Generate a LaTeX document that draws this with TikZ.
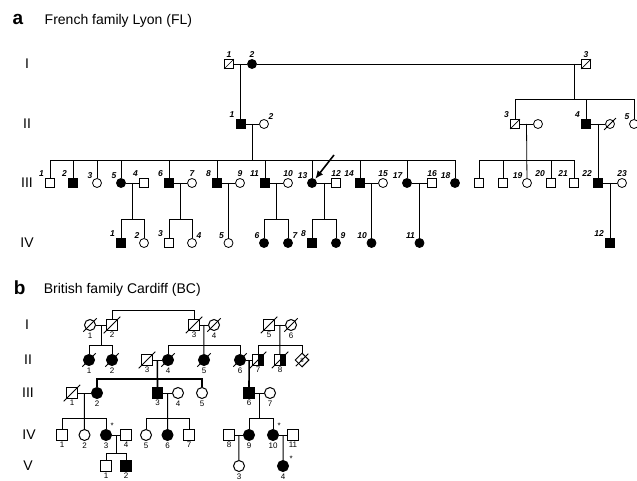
\documentclass[tikz,border=0pt]{standalone}
\usepackage{fontspec}
\setmainfont{Liberation Sans}
\usepackage{tikz}
\usetikzlibrary{arrows.meta, calc, positioning, shapes.geometric}

\begin{document}
\begin{tikzpicture}[x=1pt, y=-1pt, line width=0.8pt,
    male/.style={draw, rectangle, minimum size=9pt, inner sep=0pt, fill=white},
    female/.style={draw, circle, minimum size=9pt, inner sep=0pt, fill=white},
    bmale/.style={male, minimum size=10.5pt, line width=1pt},
    bfemale/.style={female, minimum size=11pt, line width=1pt},
    aff/.style={fill=black},
    half/.style={path picture={\fill[black] (path picture bounding box.north) rectangle (path picture bounding box.south east);}},
    dec/.style={append after command={(\tikzlastnode.south west) edge[line width=0.7pt] (\tikzlastnode.north east)}},
    decx/.style={append after command={($(\tikzlastnode.south west)+(-2.5,2.5)$) edge[line width=0.8pt] ($(\tikzlastnode.north east)+(2.5,-2.5)$)}},
    alab/.style={font=\fontsize{8.5}{9}\selectfont\bfseries\itshape, inner sep=0.8pt},
    blab/.style={font=\fontsize{8}{9}\selectfont, inner sep=1pt},
    gen/.style={font=\fontsize{14}{16}\selectfont},
    tag/.style={font=\fontsize{19}{20}\selectfont\bfseries, anchor=base west},
    title/.style={font=\fontsize{14}{16}\selectfont, anchor=base west}]
  \useasboundingbox (0,0) rectangle (637,481);

  % ---------------- a: French family Lyon
  \node[tag] (aTag) at (9,25) {a};
  \node[title] (aTitle) at (41,25) {French family Lyon (FL)};
  \node[gen] (aGI) at (27,64) {I};
  \node[gen] (aGII) at (27,124) {II};
  \node[gen] (aGIII) at (27,183) {III};
  \node[gen] (aGIV) at (27,243) {IV};

  % generation I
  \node[male, dec, label={[alab]above:1}] (aI1) at (229,64) {};
  \node[female, aff, label={[alab]above:2}] (aI2) at (252,64) {};
  \node[male, dec, label={[alab]above:3}] (aI3) at (586,64) {};
  \draw (aI1) -- coordinate (aM11) (aI2);
  \draw (aI2) -- (aI3);
  \coordinate (aM12) at (574,64);

  % generation II
  \node[male, aff, label={[alab]above left:1}] (aII1) at (240.5,124) {};
  \node[female, label={[alab]above right:2}] (aII2) at (264,124) {};
  \node[male, dec, label={[alab]above left:3}] (aII3) at (515,124) {};
  \node[female] (aII3w) at (538,124) {};
  \node[male, aff, label={[alab]above left:4}] (aII4) at (586,124) {};
  \node[female, decx] (aII4w) at (610,124) {};
  \node[female, label={[alab]above left:5}] (aII5) at (634,124) {};
  \draw (aM11) -- (aII1);
  \coordinate (aS2) at (0,99);
  \draw (aM12) -- (aM12 |- aS2);
  \draw (aII3.north) |- (aII5 |- aS2) -- (aII5.north);
  \draw (aII4.north) -- (aII4 |- aS2);
  \draw (aII1) -- coordinate (aM21) (aII2);
  \draw (aII3) -- coordinate (aM22) (aII3w);
  \draw (aII4) -- coordinate (aM23) (aII4w);

  % generation III
  \node[male, label={[alab]above left:1}] (aIII1) at (50,183) {};
  \node[male, aff, label={[alab]above left:2}] (aIII2) at (73,183) {};
  \node[female, label={[alab]above left:3}] (aIII3) at (97,183) {};
  \node[female, aff, label={[alab]above left:5}] (aIII5) at (121,183) {};
  \node[male, label={[alab]above left:4}] (aIII4) at (144,183) {};
  \node[male, aff, label={[alab]above left:6}] (aIII6) at (169,183) {};
  \node[female, label={[alab]above:7}] (aIII7) at (192,183) {};
  \node[male, aff, label={[alab]above left:8}] (aIII8) at (217,183) {};
  \node[female, label={[alab]above:9}] (aIII9) at (240,183) {};
  \node[male, aff, label={[alab]above left:11}] (aIII11) at (265,183) {};
  \node[female, label={[alab]above:10}] (aIII10) at (288,183) {};
  \node[female, aff, label={[alab]above left:13}] (aIII13) at (312,183) {};
  \node[male, label={[alab]above:12}] (aIII12) at (336,183) {};
  \node[male, aff, label={[alab]above left:14}] (aIII14) at (360,183) {};
  \node[female, label={[alab]above:15}] (aIII15) at (383,183) {};
  \node[female, aff, label={[alab]above left:17}] (aIII17) at (407,183) {};
  \node[male, label={[alab]above:16}] (aIII16) at (432,183) {};
  \node[female, aff, label={[alab]above left:18}] (aIII18) at (455,183) {};
  \node[male] (aIIIa) at (479,183) {};
  \node[male] (aIIIb) at (503,183) {};
  \node[female, label={[alab]above left:19}] (aIII19) at (527,183) {};
  \node[male, label={[alab]above left:20}] (aIII20) at (551,183) {};
  \node[male, label={[alab]above left:21}] (aIII21) at (574,183) {};
  \node[male, aff, label={[alab]above left:22}] (aIII22) at (598,183) {};
  \node[female, label={[alab]above:23}] (aIII23) at (622,183) {};

  \coordinate (aS3) at (0,160);
  \draw (aM21) -- (aM21 |- aS3);
  \draw (aIII1.north) |- (aIII18 |- aS3) -- (aIII18.north);
  \foreach \c in {aIII2,aIII3,aIII5,aIII6,aIII8,aIII11,aIII13,aIII14,aIII17}
    \draw (\c.north) -- (\c |- aS3);
  \draw (aIIIa.north) |- (aIII21 |- aS3) -- (aIII21.north);
  \foreach \c in {aIIIb,aIII20}
    \draw (\c.north) -- (\c |- aS3);
  \draw (aM22) -- (aIII19);
  \draw (aM23) -- (aIII22);

  \coordinate (aArr) at (334,155);
  \draw[-{Latex[length=8pt,width=7pt]}, line width=1.6pt, shorten >=0.5pt] (aArr) -- (aIII13);

  % generation IV
  \node[male, aff, label={[alab]above left:1}] (aIV1) at (121,243) {};
  \node[female, label={[alab]above left:2}] (aIV2) at (144,243) {};
  \node[male, label={[alab]above left:3}] (aIV3) at (169,243) {};
  \node[female, label={[alab]above right:4}] (aIV4) at (192,243) {};
  \node[female, label={[alab]above left:5}] (aIV5) at (228.5,243) {};
  \node[female, aff, label={[alab]above left:6}] (aIV6) at (264,243) {};
  \node[female, aff, label={[alab]above right:7}] (aIV7) at (288,243) {};
  \node[male, aff, label={[alab]above left:8}] (aIV8) at (312,243) {};
  \node[female, aff, label={[alab]above right:9}] (aIV9) at (336,243) {};
  \node[female, aff, label={[alab]above left:10}] (aIV10) at (371.5,243) {};
  \node[female, aff, label={[alab]above left:11}] (aIV11) at (419.5,243) {};
  \node[male, aff, label={[alab]above left:12}] (aIV12) at (610,243) {};

  \coordinate (aS4) at (0,219);
  \draw (aIII5) -- coordinate (aM31) (aIII4);
  \draw (aIII6) -- coordinate (aM32) (aIII7);
  \draw (aIII8) -- coordinate (aM33) (aIII9);
  \draw (aIII11) -- coordinate (aM34) (aIII10);
  \draw (aIII13) -- coordinate (aM35) (aIII12);
  \draw (aIII14) -- coordinate (aM36) (aIII15);
  \draw (aIII17) -- coordinate (aM37) (aIII16);
  \draw (aIII22) -- coordinate (aM38) (aIII23);
  \foreach \m/\l/\r in {aM31/aIV1/aIV2, aM32/aIV3/aIV4, aM34/aIV6/aIV7, aM35/aIV8/aIV9} {
    \draw (\m) -- (\m |- aS4);
    \draw (\l.north) |- (\r |- aS4) -- (\r.north);
  }
  \draw (aM33) -- (aIV5);
  \draw (aM36) -- (aIV10);
  \draw (aM37) -- (aIV11);
  \draw (aM38) -- (aIV12);

  % ---------------- b: British family Cardiff
  \begin{scope}[line width=1pt]
  \node[tag] (bTag) at (10,294) {b};
  \node[title] (bTitle) at (40,293) {British family Cardiff (BC)};
  \node[gen] (bGI) at (27,325) {I};
  \node[gen] (bGII) at (28,360) {II};
  \node[gen] (bGIII) at (28,393) {III};
  \node[gen] (bGIV) at (29,435) {IV};
  \node[gen] (bGV) at (28,466) {V};

  % generation I
  \node[bfemale, decx, label={[blab]below:1}] (bI1) at (90,325) {};
  \node[bmale, decx, label={[blab]below:2}] (bI2) at (112,325) {};
  \node[bmale, decx, label={[blab]below:3}] (bI3) at (194,325) {};
  \node[bfemale, decx, label={[blab]below:4}] (bI4) at (214,325) {};
  \node[bmale, decx, label={[blab]below:5}] (bI5) at (269,325) {};
  \node[bfemale, decx, label={[blab]below:6}] (bI6) at (291,325) {};
  \draw (bI2.north) -- ++(0,-9) -| (bI3.north);
  \draw (bI1) -- coordinate (bM11) (bI2);
  \draw (bI3) -- coordinate (bM12) (bI4);
  \draw (bI5) -- coordinate (bM13) (bI6);

  % generation II
  \node[bfemale, aff, decx, label={[blab]below:1}] (bII1) at (89,360) {};
  \node[bfemale, aff, decx, label={[blab]below:2}] (bII2) at (112,360) {};
  \node[bmale, decx, label={[blab]below:3}] (bII3) at (147,360) {};
  \node[bfemale, aff, decx, label={[blab]below:4}] (bII4) at (168,360) {};
  \node[bfemale, aff, decx, label={[blab]below:5}] (bII5) at (204,360) {};
  \node[bfemale, aff, decx, label={[blab]below:6}] (bII6) at (240,360) {};
  \node[bmale, half, decx, label={[blab]below:7}] (bII7) at (258,360) {};
  \node[bmale, half, decx, label={[blab]below:8}] (bII8) at (280,360) {};
  \node[draw, diamond, fill=white, minimum size=14pt, inner sep=0pt, decx,
        font=\fontsize{6}{6}\selectfont] (bII9) at (302,360) {8};

  \coordinate (bS2) at (0,345);
  \draw (bM11) -- (bM11 |- bS2);
  \draw (bII1.north) |- (bII2 |- bS2) -- (bII2.north);
  \draw (bM12) -- (bII5);
  \draw (bII4.north) |- (bII6 |- bS2) -- (bII6.north);
  \draw (bM13) -- (bII8);
  \draw (bII7.north) |- (bII9 |- bS2) -- (bII9.north);
  \draw (bII3) -- coordinate (bM21) (bII4);
  \draw (bII6) -- coordinate (bM22) (bII7);

  % generation III
  \node[bmale, decx, label={[blab]below:1}] (bIII1) at (72,393) {};
  \node[bfemale, aff, label={[blab]below:2}] (bIII2) at (97,393) {};
  \node[bmale, aff, label={[blab]below:3}] (bIII3) at (157.5,393) {};
  \node[bfemale, label={[blab]below:4}] (bIII4) at (178,393) {};
  \node[bfemale, label={[blab]below:5}] (bIII5) at (202,393) {};
  \node[bmale, aff, label={[blab]below:6}] (bIII6) at (249,393) {};
  \node[bfemale, label={[blab]below:7}] (bIII7) at (270,393) {};

  \coordinate (bS3) at (0,379);
  \draw[line width=1.6pt] (bM21) -- (bIII3);
  \draw[line width=1.6pt] (bIII2.north) |- (bIII5 |- bS3) -- (bIII5.north);
  \draw[line width=1.6pt] (bM22) -- (bIII6);
  \draw (bIII1) -- coordinate (bM31) (bIII2);
  \draw (bIII3) -- coordinate (bM32) (bIII4);
  \draw (bIII6) -- coordinate (bM33) (bIII7);

  % generation IV
  \node[bmale, label={[blab]below:1}] (bIV1) at (62,435) {};
  \node[bfemale, label={[blab]below:2}] (bIV2) at (84.5,435) {};
  \node[bfemale, aff, label={[blab]below:3}, label={[blab]60:*}] (bIV3) at (106,435) {};
  \node[bmale, label={[blab]below:4}] (bIV4) at (126,435) {};
  \node[bfemale, label={[blab]below:5}] (bIV5) at (146,435) {};
  \node[bfemale, aff, label={[blab]below:6}] (bIV6) at (167.5,435) {};
  \node[bmale, label={[blab]below:7}] (bIV7) at (189,435) {};
  \node[bmale, label={[blab]below:8}] (bIV8) at (229,435) {};
  \node[bfemale, aff, label={[blab]below:9}] (bIV9) at (249,435) {};
  \node[bfemale, aff, label={[blab]below:10}, label={[blab]60:*}] (bIV10) at (273,435) {};
  \node[bmale, label={[blab]below:11}] (bIV11) at (293,435) {};

  \coordinate (bS4) at (0,418);
  \draw (bM31) -- (bIV2);
  \draw (bIV1.north) |- (bIV3 |- bS4) -- (bIV3.north);
  \draw (bM32) -- (bIV6);
  \draw (bIV5.north) |- (bIV7 |- bS4) -- (bIV7.north);
  \draw (bM33) -- (bM33 |- bS4);
  \draw (bIV9.north) |- (bIV10 |- bS4) -- (bIV10.north);
  \draw (bIV3) -- coordinate (bM41) (bIV4);
  \draw (bIV8) -- coordinate (bM42) (bIV9);
  \draw (bIV10) -- coordinate (bM43) (bIV11);

  % generation V
  \node[bmale, label={[blab]below:1}] (bV1) at (106,466) {};
  \node[bmale, aff, label={[blab]below:2}] (bV2) at (126,466) {};
  \node[bfemale, label={[blab]below:3}] (bV3) at (239,466) {};
  \node[bfemale, aff, label={[blab]below:4}, label={[blab]30:*}] (bV4) at (283,466) {};

  \coordinate (bS5) at (0,453);
  \draw (bM41) -- (bM41 |- bS5);
  \draw (bV1.north) |- (bV2 |- bS5) -- (bV2.north);
  \draw (bM42) -- (bV3);
  \draw (bM43) -- (bV4);
  \end{scope}
\end{tikzpicture}
\end{document}
